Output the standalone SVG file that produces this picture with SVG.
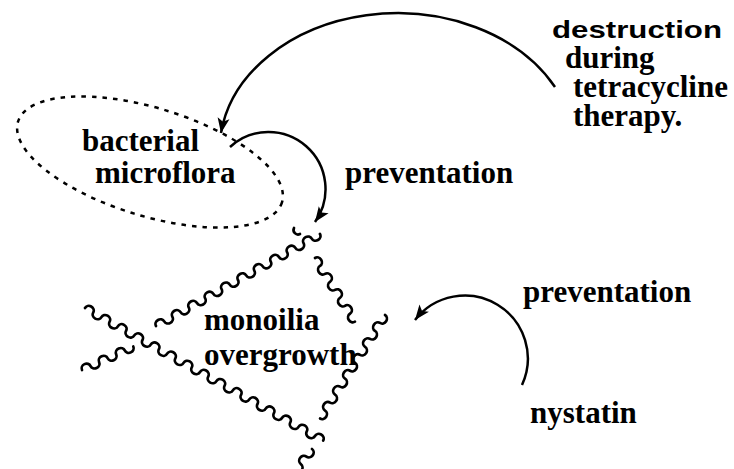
<svg xmlns="http://www.w3.org/2000/svg" width="734" height="469" viewBox="0 0 734 469">
<defs>
<style>
.lbl{font-family:"Liberation Serif","Times New Roman",serif;font-weight:bold;font-size:31px;fill:#000}
.sans{font-family:"Liberation Sans",Arial,sans-serif;font-weight:bold;font-size:24px;fill:#000}
.wave{fill:none;stroke:#000;stroke-width:2.7;stroke-linecap:round}
.conn{fill:none;stroke:#000;stroke-width:2.5}
.dots{fill:none;stroke:#000;stroke-width:2.5;stroke-dasharray:4.5 6}
</style>
<marker id="arr" viewBox="-16 -7 17 14" refX="0" refY="0" markerWidth="17" markerHeight="14" markerUnits="userSpaceOnUse" orient="auto">
<path d="M0,0 L-15,-6 L-11.5,0 L-15,6 Z" fill="#000"/>
</marker>
</defs>
<rect width="734" height="469" fill="#fff"/>

<g id="bacterial-microflora">
<ellipse class="dots" cx="150" cy="162" rx="138" ry="54" transform="rotate(17 150 162)"/>
<text class="lbl" x="82" y="151">bacterial</text>
<text class="lbl" x="95" y="183">microflora</text>
</g>

<g id="monoilia-overgrowth">
<path class="wave" transform="translate(156,326) rotate(-29.3)" d="M0,0 a4.7,4.3 0 0 1 9.4,0 a4.7,4.3 0 0 0 9.4,0 a4.7,4.3 0 0 1 9.4,0 a4.7,4.3 0 0 0 9.4,0 a4.7,4.3 0 0 1 9.4,0 a4.7,4.3 0 0 0 9.4,0 a4.7,4.3 0 0 1 9.4,0 a4.7,4.3 0 0 0 9.4,0 a4.7,4.3 0 0 1 9.4,0 a4.7,4.3 0 0 0 9.4,0 a4.7,4.3 0 0 1 9.4,0 a4.7,4.3 0 0 0 9.4,0 a4.7,4.3 0 0 1 9.4,0 a4.7,4.3 0 0 0 9.4,0 a4.7,4.3 0 0 1 9.4,0 a4.7,4.3 0 0 0 9.4,0 a4.7,4.3 0 0 1 9.4,0 a4.7,4.3 0 0 0 9.4,0 a4.7,4.3 0 0 1 9.4,0 a4.7,4.3 0 0 0 9.4,0"/>
<path class="wave" transform="translate(315,258) rotate(57.9)" d="M0,0 a4.7,4.3 0 0 1 9.4,0 a4.7,4.3 0 0 0 9.4,0 a4.7,4.3 0 0 1 9.4,0 a4.7,4.3 0 0 0 9.4,0 a4.7,4.3 0 0 1 9.4,0 a4.7,4.3 0 0 0 9.4,0 a4.7,4.3 0 0 1 9.4,0 a4.7,4.3 0 0 0 9.4,0"/>
<path class="wave" transform="translate(85,308) rotate(29.1)" d="M0,0 a4.7,4.3 0 0 1 9.4,0 a4.7,4.3 0 0 0 9.4,0 a4.7,4.3 0 0 1 9.4,0 a4.7,4.3 0 0 0 9.4,0 a4.7,4.3 0 0 1 9.4,0 a4.7,4.3 0 0 0 9.4,0 a4.7,4.3 0 0 1 9.4,0 a4.7,4.3 0 0 0 9.4,0 a4.7,4.3 0 0 1 9.4,0 a4.7,4.3 0 0 0 9.4,0 a4.7,4.3 0 0 1 9.4,0 a4.7,4.3 0 0 0 9.4,0 a4.7,4.3 0 0 1 9.4,0 a4.7,4.3 0 0 0 9.4,0 a4.7,4.3 0 0 1 9.4,0 a4.7,4.3 0 0 0 9.4,0 a4.7,4.3 0 0 1 9.4,0 a4.7,4.3 0 0 0 9.4,0 a4.7,4.3 0 0 1 9.4,0 a4.7,4.3 0 0 0 9.4,0 a4.7,4.3 0 0 1 9.4,0 a4.7,4.3 0 0 0 9.4,0 a4.7,4.3 0 0 1 9.4,0 a4.7,4.3 0 0 0 9.4,0 a4.7,4.3 0 0 1 9.4,0 a4.7,4.3 0 0 0 9.4,0 a4.7,4.3 0 0 1 9.4,0 a4.7,4.3 0 0 0 9.4,0 a4.7,4.3 0 0 1 9.4,0"/>
<path class="wave" transform="translate(82,370) rotate(-24.6)" d="M0,0 a4.7,4.3 0 0 1 9.4,0 a4.7,4.3 0 0 0 9.4,0 a4.7,4.3 0 0 1 9.4,0 a4.7,4.3 0 0 0 9.4,0 a4.7,4.3 0 0 1 9.4,0 a4.7,4.3 0 0 0 9.4,0"/>
<path class="wave" transform="translate(385,315) rotate(122.1)" d="M0,0 a4.7,4.3 0 0 1 9.4,0 a4.7,4.3 0 0 0 9.4,0 a4.7,4.3 0 0 1 9.4,0 a4.7,4.3 0 0 0 9.4,0 a4.7,4.3 0 0 1 9.4,0 a4.7,4.3 0 0 0 9.4,0 a4.7,4.3 0 0 1 9.4,0 a4.7,4.3 0 0 0 9.4,0 a4.7,4.3 0 0 1 9.4,0 a4.7,4.3 0 0 0 9.4,0 a4.7,4.3 0 0 1 9.4,0 a4.7,4.3 0 0 0 9.4,0 a4.7,4.3 0 0 1 9.4,0"/>
<path class="wave" transform="translate(312,449) rotate(126.4)" d="M0,0 a4.7,4.3 0 0 1 9.4,0 a4.7,4.3 0 0 0 9.4,0 a4.7,4.3 0 0 1 9.4,0"/>
<path class="wave" d="M300,234 a4.5,4.5 0 0 1 -6,-6"/>
<text class="lbl" x="204" y="330">monoilia</text>
<text class="lbl" x="204" y="365">overgrowth</text>
</g>

<g id="destruction-label">
<text class="sans" x="552" y="38" textLength="170" lengthAdjust="spacingAndGlyphs">destruction</text>
<text class="lbl" x="565" y="68">during</text>
<text class="lbl" x="573" y="97">tetracycline</text>
<text class="lbl" x="573" y="126">therapy.</text>
</g>

<g id="preventation-1">
<text class="lbl" x="345" y="183">preventation</text>
</g>

<g id="preventation-2">
<text class="lbl" x="523" y="302">preventation</text>
</g>

<g id="nystatin">
<text class="lbl" x="530" y="423">nystatin</text>
</g>

<g id="connectors">
<path class="conn" marker-end="url(#arr)" d="M555,87 A178,138 0 0 0 221,133"/>
<path class="conn" marker-end="url(#arr)" d="M230,147 A57,57 0 0 1 315,222"/>
<path class="conn" marker-end="url(#arr)" d="M522,385 A63,63 0 0 0 415,320"/>
</g>
</svg>
